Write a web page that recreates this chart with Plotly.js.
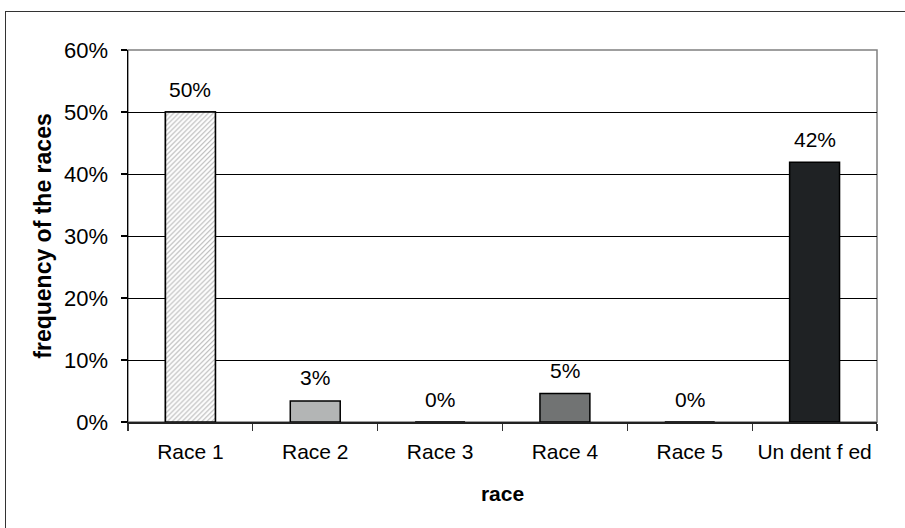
<!DOCTYPE html>
<html>
<head>
<meta charset="utf-8">
<script src="https://cdn.plot.ly/plotly-3.0.1.min.js"></script>
<style>
  html, body { margin: 0; padding: 0; background: #fff; }
  #frame { position: absolute; left: 5px; top: 11px; width: 905px; height: 528px;
           border-left: 1.5px solid #333; border-top: 1.5px solid #333; box-sizing: border-box; }
  #chart { position: absolute; left: 0; top: 0; width: 905px; height: 528px; }
</style>
</head>
<body>
<div id="frame"></div>
<div id="chart"></div>
<script>
// Data
var categories = ["Race 1", "Race 2", "Race 3", "Race 4", "Race 5", "Un dent f ed"];
var frequencies = [50.0, 3.4, 0.0, 4.6, 0.0, 41.9];   // percent
var barColors = ["#ffffff", "#b3b5b5", "#b3b5b5", "#717373", "#717373", "#1f2224"];
var hatchedCategory = "Race 1";
var yTickValues = [0, 10, 20, 30, 40, 50, 60];
var yTickLabels = ["0%", "10%", "20%", "30%", "40%", "50%", "60%"];

var fontFamily = "Liberation Sans, Arial, sans-serif";

var hatchIdx = categories.indexOf(hatchedCategory);

var traceMain = {
  type: "bar",
  x: categories,
  y: frequencies,
  marker: {
    color: barColors,
    line: { color: "#000000", width: 1.5 }
  },
  hoverinfo: "x+y"
};

var traceHatch = {
  type: "bar",
  x: [categories[hatchIdx]],
  y: [frequencies[hatchIdx]],
  marker: {
    color: "#ffffff",
    line: { color: "#000000", width: 1.5 },
    pattern: { shape: "/", fillmode: "replace", fgcolor: "#b4b4b4", bgcolor: "#ffffff", size: 3.5, solidity: 0.3 }
  },
  hoverinfo: "skip"
};

var annotations = categories.map(function (c, i) {
  return {
    x: c, y: frequencies[i], xref: "x", yref: "y",
    text: Math.round(frequencies[i]) + "%",
    showarrow: false, yshift: 23, yanchor: "middle",
    font: { family: fontFamily, size: 21, color: "#000" }
  };
});

var layout = {
  width: 905, height: 528,
  margin: { l: 128, r: 28, t: 50, b: 106, pad: 0 },
  paper_bgcolor: "rgba(0,0,0,0)",
  plot_bgcolor: "#ffffff",
  barmode: "overlay",
  bargap: 0.6,
  showlegend: false,
  font: { family: fontFamily, size: 21, color: "#000" },
  xaxis: {
    type: "category",
    categoryarray: categories, categoryorder: "array",
    showgrid: false,
    showline: true, linecolor: "#222", linewidth: 1.5,
    ticks: "outside", ticklen: 7, tickcolor: "#333", tickwidth: 1.2,
    tickson: "boundaries",
    ticklabelstandoff: 10,
    tickfont: { family: fontFamily, size: 21, color: "#000" },
    title: { text: "<b>race</b>", standoff: 24, font: { family: fontFamily, size: 21, color: "#000" } },
    zeroline: false
  },
  yaxis: {
    range: [0, 60],
    tickvals: yTickValues, ticktext: yTickLabels,
    showgrid: true, gridcolor: "#000", gridwidth: 1,
    showline: true, linecolor: "#000", linewidth: 1.5,
    ticks: "outside", ticklen: 6, tickcolor: "#000", tickwidth: 1.2,
    ticklabelstandoff: 8,
    tickfont: { family: fontFamily, size: 22, color: "#000" },
    title: { text: "<b>frequency of the races</b>", standoff: 6, font: { family: fontFamily, size: 23, color: "#000" } },
    zeroline: false
  },
  shapes: [
    { type: "rect", xref: "paper", yref: "paper", x0: 0, x1: 1, y0: 0, y1: 1,
      line: { color: "#808080", width: 1.5 }, layer: "below", fillcolor: "rgba(0,0,0,0)" }
  ],
  annotations: annotations
};

Plotly.newPlot("chart", [traceMain, traceHatch], layout, { displayModeBar: false, staticPlot: true });
</script>
</body>
</html>
